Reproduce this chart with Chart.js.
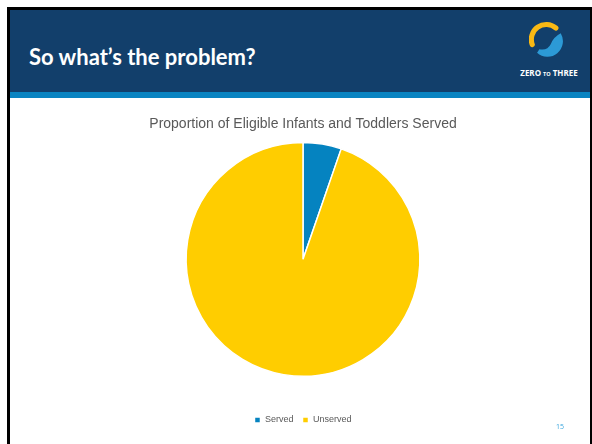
<!DOCTYPE html>
<html>
<head>
<meta charset="utf-8">
<script src="https://cdn.jsdelivr.net/npm/chart.js@4/dist/chart.umd.min.js"></script>
<style>
  html, body { margin: 0; padding: 0; background: #fff; }
  body { width: 592px; height: 444px; position: relative; overflow: hidden; font-family: Lato, "Open Sans", sans-serif; }
  #slide { position: absolute; left: 7px; top: 7px; width: 580px; height: 450px; border: 3px solid #000; border-bottom: none; background: #fff; }
  #header { position: absolute; left: 0; top: 0; width: 580px; height: 82px; background: #123f6b; }
  #stripe { position: absolute; left: 0; top: 82px; width: 580px; height: 6px; background: #0a84c1; }
  #title { position: absolute; left: 19px; top: 33px; color: #fff; font-weight: bold; font-size: 22px; white-space: nowrap; }
  #logo { position: absolute; left: 518.75px; top: 9.5px; width: 34.5px; height: 39px; }
  #logotext { position: absolute; left: 502px; top: 57px; width: 74px; text-align: center; color: #fff; font-weight: bold; font-size: 8px; white-space: nowrap; font-family: "Open Sans", Lato, sans-serif; }
  #logotext span { font-size: 5.5px; }
  #chartBox { position: absolute; left: 16px; top: 110px; width: 574px; height: 330px; }
  #pageno { position: absolute; left: 556px; top: 422px; color: #3aa6dd; font-size: 7px; font-family: "Open Sans", sans-serif; }
</style>
</head>
<body>
<div id="slide">
  <div id="header"></div>
  <div id="stripe"></div>
  <div id="title">So what’s the problem?</div>
  <svg id="logo" viewBox="0 0 30 34">
    <path d="M 2.8 21.4 A 13 13 0 0 1 23.4 7.0" fill="none" stroke="#f9b914" stroke-width="4.5" stroke-linecap="round"/>
    <path d="M 27.6 11.5 A 13.5 13.5 0 0 1 7 28.5 L 9 25.5 Q 16 27 19 21 Q 21 15 27.6 11.5 Z" fill="#2c9ad6"/>
  </svg>
  <div id="logotext">ZERO <span>TO</span> THREE</div>
</div>
<div id="chartBox"><canvas id="pie"></canvas></div>
<div id="pageno">15</div>
<script>
const categories = ['Served', 'Unserved'];
const shares = [5.3, 94.7];
const sliceColors = ['#0583c0', '#ffcd00'];
const chartTitle = 'Proportion of Eligible Infants and Toddlers Served';

const ctx = document.getElementById('pie').getContext('2d');
new Chart(ctx, {
    type: 'pie',
    data: {
        labels: categories,
        datasets: [{
            data: shares,
            backgroundColor: sliceColors,
            borderColor: '#ffffff',
            borderWidth: 1.5
        }]
    },
    options: {
        responsive: true,
        maintainAspectRatio: false,
        animation: false,
        layout: { padding: { bottom: 5.5 } },
        plugins: {
            title: {
                display: true,
                text: chartTitle,
                color: '#595959',
                font: { family: 'Liberation Sans, Arial, sans-serif', size: 14, weight: 'normal' },
                padding: { top: 5.6, bottom: 9.3 }
            },
            // empty spacer between the pie and the legend
            subtitle: {
                display: true,
                position: 'bottom',
                text: ' ',
                weight: 500,
                font: { size: 10 },
                padding: { top: 17.5, bottom: 0 }
            },
            legend: {
                position: 'bottom',
                labels: {
                    boxWidth: 6,
                    boxHeight: 6,
                    padding: 9,
                    color: '#595959',
                    font: { family: 'Liberation Sans, Arial, sans-serif', size: 9 }
                }
            },
            tooltip: { enabled: false }
        }
    }
});
</script>
</body>
</html>
